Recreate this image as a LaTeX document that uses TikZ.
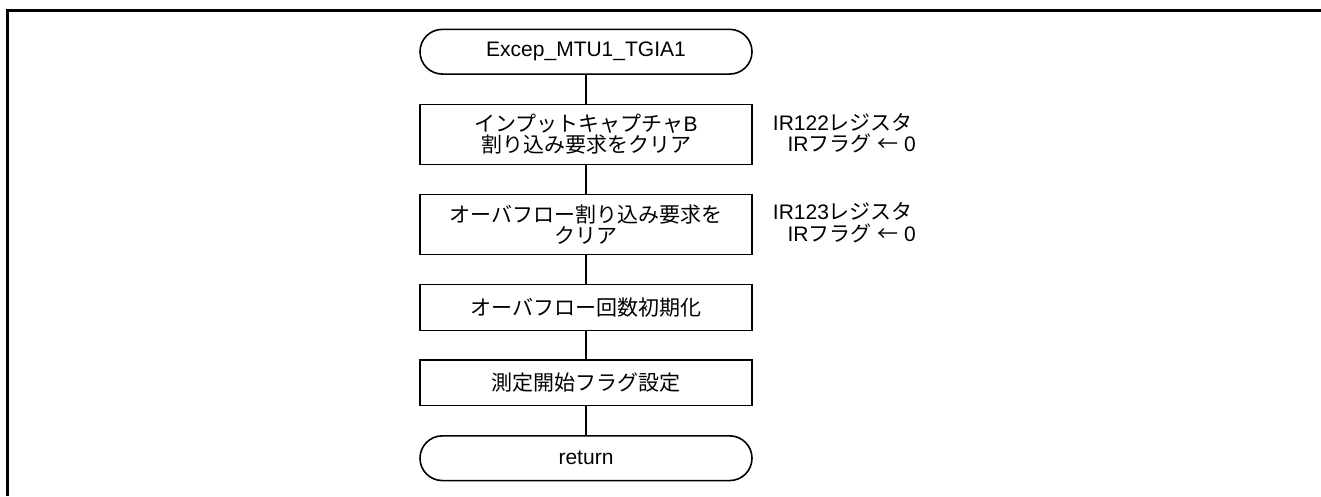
\documentclass[tikz,border=0pt]{standalone}
\usepackage{fontspec}
\setmainfont{Liberation Sans}
\newfontfamily\jpfont{Noto Sans CJK JP}
\newcommand{\J}[1]{{\jpfont #1}}
\newcommand{\myfont}{\fontsize{21}{21}\selectfont\lineskiplimit=-50pt\relax\lineskip=0pt\relax}
\begin{document}
\begin{tikzpicture}[x=1pt,y=-1pt,
  every node/.style={font=\myfont},
  proc/.style={draw,line width=1.6pt,minimum width=332pt,inner sep=0pt,align=center},
  term/.style={draw,line width=1.6pt,minimum width=332pt,minimum height=44.7pt,rounded corners=22.3pt,inner sep=0pt},
  conn/.style={line width=1.4pt},
  note/.style={anchor=base west,inner sep=0pt}]
\useasboundingbox (0,0) rectangle (1321,496);
\draw[line width=3pt] (7.5,496) -- (7.5,10.5) -- (1321,10.5);
\node[term] (start) at (586,51.7) {Excep\_MTU1\_TGIA1};
\node[proc,minimum height=60pt] (b1) at (586,134.3) {\J{インプットキャプチャ}B\\\J{割り込み要求をクリア}};
\node[proc,minimum height=60.2pt] (b2) at (586,224.4) {\J{オーバフロー割り込み要求を}\\\J{クリア}};
\node[proc,minimum height=46pt] (b3) at (586,307.3) {\J{オーバフロー回数初期化}};
\node[proc,minimum height=45.3pt] (b4) at (586,382.7) {\J{測定開始フラグ設定}};
\node[term] (ret) at (586,458.2) {return};
\draw[conn] (start) -- (b1);
\draw[conn] (b1) -- (b2);
\draw[conn] (b2) -- (b3);
\draw[conn] (b3) -- (b4);
\draw[conn] (b4) -- (ret);
\node[note] (n1a) at (772.7,130) {IR122\J{レジスタ}};
\node[note] (n1b) at (787.3,151) {IR\J{フラグ} \J{←} 0};
\node[note] (n2a) at (772.7,219.5) {IR123\J{レジスタ}};
\node[note] (n2b) at (787.3,241) {IR\J{フラグ} \J{←} 0};
\end{tikzpicture}
\end{document}
